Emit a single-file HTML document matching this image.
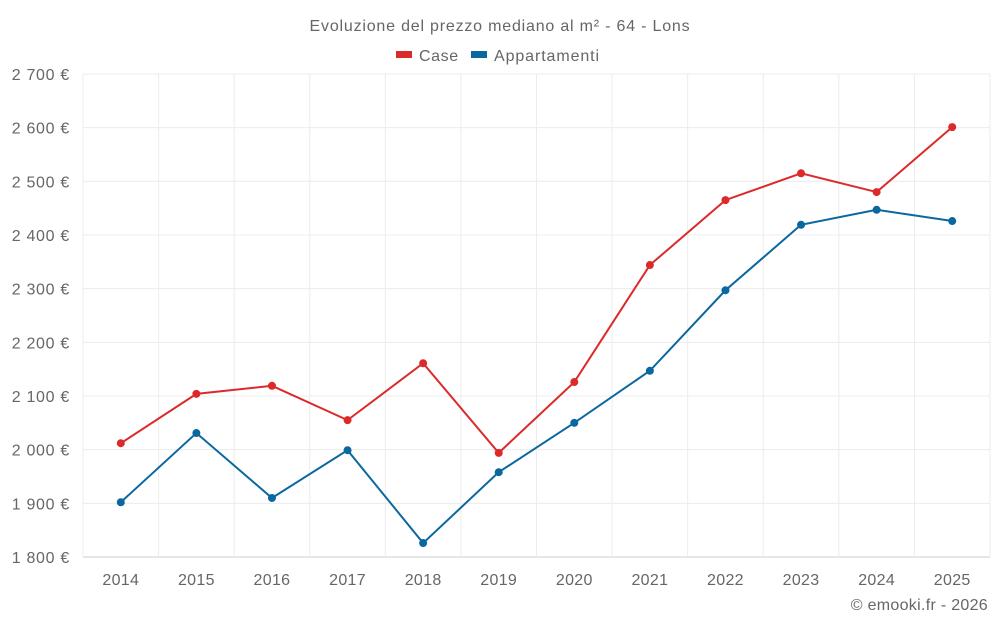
<!DOCTYPE html>
<html><head><meta charset="utf-8"><style>
body{margin:0;background:#fff;font-family:"Liberation Sans",sans-serif;}
svg text{font-family:"Liberation Sans",sans-serif;fill:#666;}
</style></head><body>
<svg id="c" width="1000" height="625">
<text x="500" y="31" text-anchor="middle" font-size="16" letter-spacing="0.8">Evoluzione del prezzo mediano al m² - 64 - Lons</text>
<g>
<rect x="396" y="51" width="16" height="7" fill="#dc2a2a"/>
<text x="419" y="61" font-size="16" letter-spacing="0.6">Case</text>
<rect x="471" y="51" width="16" height="7" fill="#0b67a0"/>
<text x="494" y="61" font-size="16" letter-spacing="0.9">Appartamenti</text>
</g>
<g id="grid"></g><g id="series"></g>
<text x="988" y="610" text-anchor="end" font-size="16" letter-spacing="0.3">© emooki.fr - 2026</text>
</svg>
<script>
const years=["2014","2015","2016","2017","2018","2019","2020","2021","2022","2023","2024","2025"];
const caseVals=[2012,2104,2119,2055,2161,1994,2126,2344,2465,2515,2480,2601];
const appVals=[1902,2031,1910,1999,1826,1958,2050,2147,2297,2419,2447,2426];
const yTicks=[1800,1900,2000,2100,2200,2300,2400,2500,2600,2700];
const NS="http://www.w3.org/2000/svg";
const L=83,R=990,T=74,B=557,ymin=1800,ymax=2700;
const step=(R-L)/years.length;
const x=i=>L+step*(i+0.5);
const y=v=>B-(v-ymin)/(ymax-ymin)*(B-T);
function mk(t,a,p){const e=document.createElementNS(NS,t);for(const k in a)e.setAttribute(k,a[k]);p.appendChild(e);return e;}
const g=document.getElementById('grid'),s=document.getElementById('series');
yTicks.forEach(v=>{
 const ln=mk('line',{x1:L,x2:R,y1:y(v),y2:y(v),stroke:v===ymin?'#ccc':'#ececec'},g);
 
 
 const t=mk('text',{x:70,y:y(v)+6,'text-anchor':'end','font-size':16,'letter-spacing':0.7},g);
 t.textContent=String(v).replace(/(\d)(\d{3})$/,'$1 $2')+' €';
 
 
});
for(let i=0;i<=years.length;i++){
 const ln=mk('line',{x1:L+step*i,x2:L+step*i,y1:T,y2:B,stroke:'#ececec'},g);
 
 
}
years.forEach((yr,i)=>{
 const t=mk('text',{x:x(i),y:585,'text-anchor':'middle','font-size':16,'letter-spacing':0.3},g);
 t.textContent=yr;
 
 
});
function series(vals,col,name){
 const p=mk('polyline',{points:vals.map((v,i)=>x(i)+','+y(v)).join(' '),fill:'none',stroke:col,'stroke-width':2},s);
 
 
 vals.forEach((v,i)=>{
  const c=mk('circle',{cx:x(i),cy:y(v),r:4,fill:col},s);
  
  
 });
}
series(appVals,'#0b67a0','appartamenti');
series(caseVals,'#dc2a2a','case');
</script>
</body></html>
